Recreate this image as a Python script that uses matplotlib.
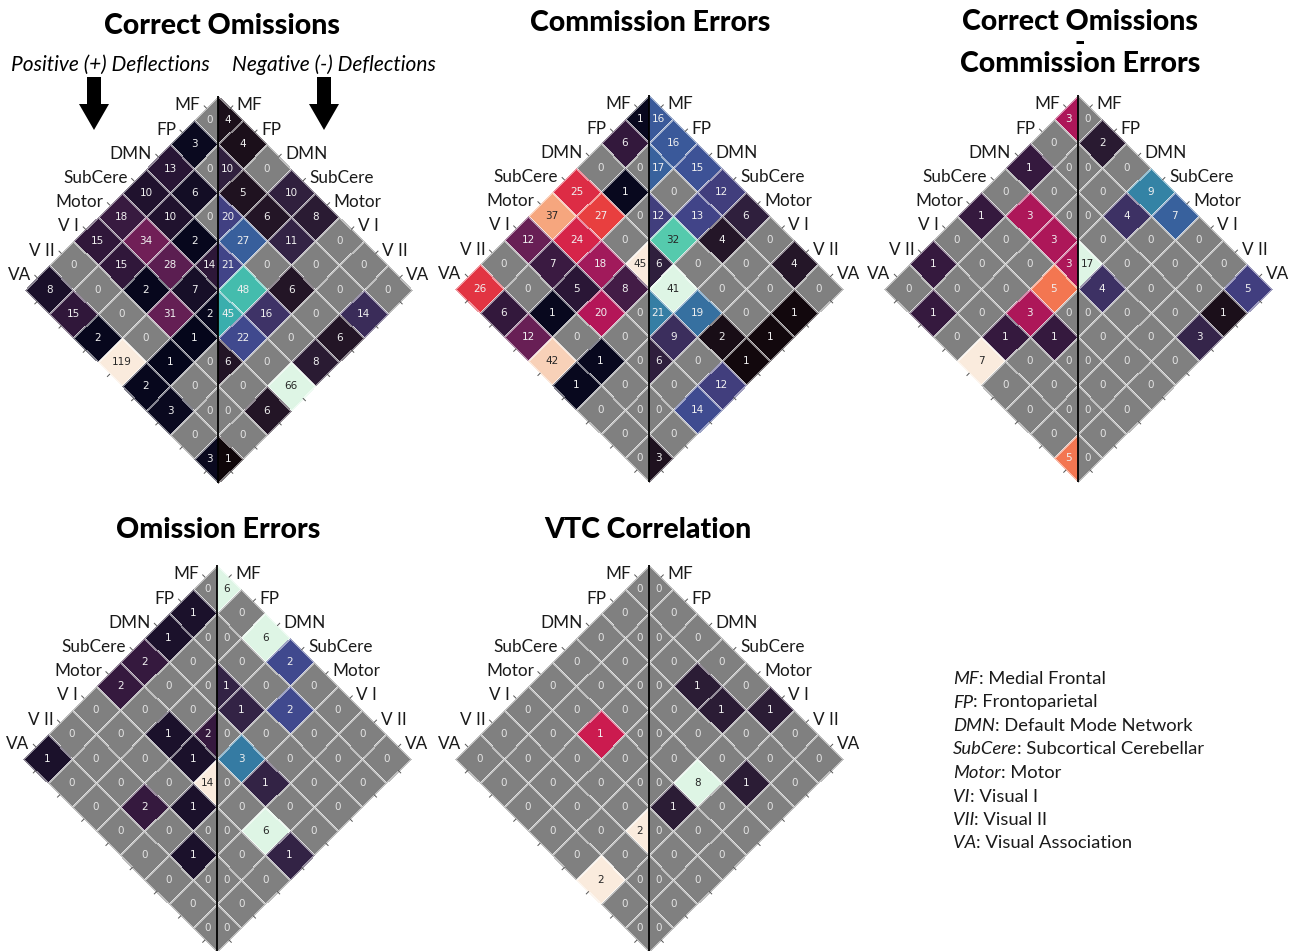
import numpy as np
import matplotlib
matplotlib.use("Agg")
import matplotlib.pyplot as plt
from matplotlib.colors import Normalize
from matplotlib.patches import Rectangle, FancyArrow
import seaborn as sns

networks = ["MF", "FP", "DMN", "SubCere", "Motor", "V I", "V II", "VA"]
legend_abbr = ["MF", "FP", "DMN", "SubCere", "Motor", "VI", "VII", "VA"]
legend_names = ["Medial Frontal", "Frontoparietal", "Default Mode Network",
                "Subcortical Cerebellar", "Motor", "Visual I", "Visual II",
                "Visual Association"]

# positive deflections: lower triangle, row i = columns 0..i
# negative deflections: upper triangle, row i = columns i..7
co_pos = [[0],
          [3, 0],
          [13, 6, 0],
          [10, 10, 2, 14],
          [18, 34, 28, 7, 2],
          [15, 15, 2, 31, 1, 0],
          [0, 0, 0, 0, 1, 0, 0],
          [8, 15, 2, 119, 2, 3, 0, 3]]
co_neg = [[4, 4, 0, 10, 8, 0, 0, 0],
          [10, 5, 6, 11, 0, 0, 14],
          [20, 27, 0, 6, 0, 6],
          [21, 48, 16, 0, 8],
          [45, 22, 0, 66],
          [6, 0, 6],
          [0, 0],
          [1]]

ce_pos = [[1],
          [6, 0],
          [0, 1, 0],
          [25, 27, 0, 45],
          [37, 24, 18, 8, 0],
          [12, 7, 5, 20, 0, 0],
          [0, 0, 1, 0, 1, 0, 0],
          [26, 6, 12, 42, 1, 0, 0, 0]]
ce_neg = [[16, 16, 15, 12, 6, 0, 4, 0],
          [17, 0, 13, 4, 0, 0, 1],
          [12, 32, 0, 0, 0, 1],
          [6, 41, 19, 2, 1],
          [21, 9, 0, 12],
          [6, 0, 14],
          [0, 0],
          [3]]

diff_pos = [[3],
            [0, 0],
            [1, 0, 0],
            [0, 3, 3, 3],
            [1, 0, 0, 5, 0],
            [0, 0, 0, 3, 1, 0],
            [1, 0, 0, 1, 0, 0, 0],
            [0, 1, 0, 7, 0, 0, 0, 5]]
diff_neg = [[0, 2, 0, 9, 7, 0, 0, 5],
            [0, 0, 4, 0, 0, 0, 1],
            [0, 0, 0, 0, 0, 3],
            [17, 4, 0, 0, 0],
            [0, 0, 0, 0],
            [0, 0, 0],
            [0, 0],
            [0]]

oe_pos = [[0],
          [1, 0],
          [1, 0, 0],
          [2, 0, 0, 2],
          [2, 0, 1, 1, 14],
          [0, 0, 0, 0, 1, 0],
          [0, 0, 0, 2, 0, 1, 0],
          [1, 0, 0, 0, 0, 0, 0, 0]]
oe_neg = [[6, 0, 6, 2, 0, 0, 0, 0],
          [0, 0, 0, 2, 0, 0, 0],
          [1, 1, 0, 0, 0, 0],
          [0, 3, 1, 0, 0],
          [0, 0, 6, 1],
          [0, 0, 0],
          [0, 0],
          [0]]

vtc_pos = [[0],
           [0, 0],
           [0, 0, 0],
           [0, 0, 0, 0],
           [0, 0, 1, 0, 0],
           [0, 0, 0, 0, 0, 2],
           [0, 0, 0, 0, 0, 0, 0],
           [0, 0, 0, 0, 0, 2, 0, 0]]
vtc_neg = [[0, 0, 0, 0, 0, 1, 0, 0],
           [0, 0, 1, 1, 0, 0, 0],
           [0, 0, 0, 0, 1, 0],
           [0, 0, 8, 0, 0],
           [0, 1, 0, 0],
           [0, 0, 0],
           [0, 0],
           [0]]

FIG_W, FIG_H = 1290, 951
CELL = 24.2          # half-diagonal of a cell, pixels
GRAY = "#808080"
LABEL_FONT = "Lato"

rocket = sns.color_palette("rocket", as_cmap=True).with_extremes(bad=GRAY)
mako = sns.color_palette("mako", as_cmap=True).with_extremes(bad=GRAY)


def full_matrices(pos_rows, neg_rows):
    n = len(pos_rows)
    pos = np.zeros((n, n))
    neg = np.zeros((n, n))
    for i, row in enumerate(pos_rows):
        pos[i, :i + 1] = row
    for i, row in enumerate(neg_rows):
        neg[i, i:] = row
    return pos, neg


def text_color(rgba):
    rgb = np.array(rgba[:3])
    lin = np.where(rgb <= 0.03928, rgb / 12.92, ((rgb + 0.055) / 1.055) ** 2.4)
    lum = 0.2126 * lin[0] + 0.7152 * lin[1] + 0.0722 * lin[2]
    return "#262626" if lum > 0.408 else "#f0f0f0"


def draw_panel(fig, cx, top, pos_rows, neg_rows):
    n = len(networks)
    size = 2 * n * CELL
    ax = fig.add_axes([(cx - size / 2) / FIG_W, 1 - (top + size) / FIG_H,
                       size / FIG_W, size / FIG_H])
    ax.set_xlim(-n, n)
    ax.set_ylim(2 * n, 0)
    ax.axis("off")

    pos, neg = full_matrices(pos_rows, neg_rows)

    # matrix rotated by 45 degrees: diagonal runs down the vertical centre
    a, b = np.meshgrid(np.arange(n + 1), np.arange(n + 1), indexing="ij")
    X = b - a
    Y = a + b

    halves = [(pos, rocket, -1), (neg, mako, 1)]
    for mat, cmap, side in halves:
        norm = Normalize(0, mat.max() if mat.max() > 0 else 1)
        mesh = ax.pcolormesh(X, Y, np.ma.masked_equal(mat, 0), cmap=cmap,
                             norm=norm, shading="flat",
                             edgecolors=(1, 1, 1, 0.5), linewidth=0.5)
        x0 = -n - 1 if side < 0 else 0
        mesh.set_clip_path(Rectangle((x0, -1), n + 1, 2 * n + 2,
                                     transform=ax.transData))
        for i in range(n):
            for j in range(n):
                if side < 0 and j > i or side > 0 and j < i:
                    continue
                v = mat[i, j]
                x = j - i
                if i == j:
                    x = side * 0.38
                color = "#e4e4e4" if v == 0 else text_color(cmap(norm(v)))
                ax.text(x, i + j + 1, f"{int(v)}", ha="center", va="center",
                        fontsize=7.5, color=color, family="DejaVu Sans")

    ax.plot([0, 0], [0, 2 * n], color="black", lw=1.3, solid_capstyle="butt")

    for i, name in enumerate(networks):
        # upper edges carry the labels
        for side in (-1, 1):
            mx, my = side * (i + 0.5), i + 0.5
            ax.plot([mx, mx + side * 0.09], [my, my - 0.09], color="#555555",
                    lw=0.7, clip_on=False)
            ax.annotate(name, xy=(mx, my), xytext=(side * 4.5, 2),
                        textcoords="offset points",
                        ha="right" if side < 0 else "left", va="center",
                        fontsize=12.3, family=LABEL_FONT, color="#1a1a1a",
                        annotation_clip=False)
        # small ticks on the lower edges
        lx, ly = i - n + 0.5, i + n + 0.5
        ax.plot([lx, lx - 0.09], [ly, ly + 0.09], color="#555555", lw=0.7,
                clip_on=False)
        rx, ry = n - 0.5 - i, i + n + 0.5
        ax.plot([rx, rx + 0.09], [ry, ry + 0.09], color="#555555", lw=0.7,
                clip_on=False)
    return ax


fig = plt.figure(figsize=(FIG_W / 100, FIG_H / 100), dpi=100)
base = fig.add_axes([0, 0, 1, 1])
base.set_xlim(0, FIG_W)
base.set_ylim(FIG_H, 0)
base.axis("off")

title_kw = dict(ha="center", va="center", fontsize=20.5, fontweight="black",
                family=LABEL_FONT, color="black")
base.text(222, 26, "Correct Omissions", **title_kw)
base.text(650, 23, "Commission Errors", **title_kw)
base.text(1080, 43, "Correct Omissions\n-\nCommission Errors",
          linespacing=0.78, **title_kw)
base.text(218, 530, "Omission Errors", **title_kw)
base.text(648, 530, "VTC Correlation", **title_kw)

sub_kw = dict(ha="center", va="center", fontsize=15, style="italic",
              family=LABEL_FONT, color="black")
base.text(110, 65, "Positive (+) Deflections", **sub_kw)
base.text(334, 65, "Negative (-) Deflections", **sub_kw)
for ax_x in (94, 324):
    base.add_patch(FancyArrow(ax_x, 77, 0, 53, width=14, head_width=30,
                              head_length=26, length_includes_head=True,
                              color="black", lw=0))

draw_panel(fig, 218.5, 96, co_pos, co_neg)
draw_panel(fig, 649, 95, ce_pos, ce_neg)
draw_panel(fig, 1078, 95, diff_pos, diff_neg)
draw_panel(fig, 217, 565, oe_pos, oe_neg)
draw_panel(fig, 649, 565, vtc_pos, vtc_neg)

# network abbreviations
for k, (abbr, name) in enumerate(zip(legend_abbr, legend_names)):
    t = base.text(953, 679 + k * 23.5, abbr, ha="left", va="center",
                  fontsize=13.2, style="italic", family=LABEL_FONT,
                  color="#1a1a1a")
    base.annotate(": " + name, xy=(1, 0.5), xycoords=t, ha="left",
                  va="center", fontsize=13.2, family=LABEL_FONT,
                  color="#1a1a1a")

fig.savefig("out.png", dpi=100)
